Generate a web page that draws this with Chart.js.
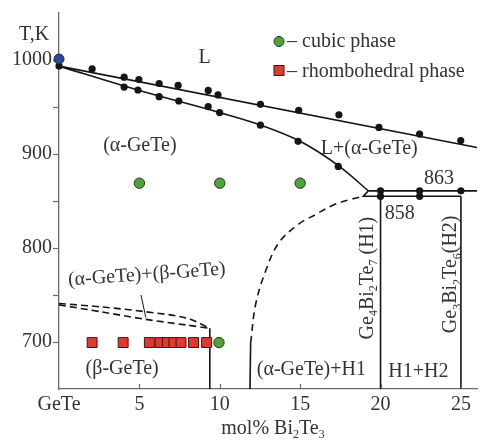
<!DOCTYPE html>
<html><head><meta charset="utf-8">
<script src="https://cdn.jsdelivr.net/npm/chart.js@4/dist/chart.umd.min.js"></script>
<style>html,body{margin:0;padding:0;background:#fff;}#wrap{width:485px;height:441px;}</style>
</head><body><div id="wrap"><canvas id="c" width="485" height="441"></canvas></div>
<script>
// ---- axis ticks ----
const xTicks = [0, 5, 10, 15, 20, 25];
const xTickLabels = ['GeTe', '5', '10', '15', '20', '25'];
const yTicks = [700, 750, 800, 850, 900, 950, 1000];
const yLabelled = [700, 800, 900, 1000];

// ---- liquidus (upper line) ----
const liquidusLineX = [0, 26];
const liquidusLineT = [993.5, 907];
const liquidusPtsX = [2.06, 4.05, 4.97, 6.23, 7.41, 9.28, 9.89, 12.53, 14.91, 17.41, 19.9, 22.43, 24.99];
const liquidusPtsT = [990.5, 981.7, 979.2, 975.0, 972.9, 967.6, 962.8, 952.8, 946.5, 941.7, 928.3, 921.2, 914.3];

// ---- solidus (lower curve) ----
const solidusCurveX = [0, 5, 10, 12.5, 15, 17.5, 19.24];
const solidusCurveT = [993.5, 967.5, 944, 931, 913.5, 886, 860.8];
const solidusPtsX = [4.05, 4.91, 6.23, 7.45, 9.28, 9.99, 12.53, 14.87, 17.37];
const solidusPtsT = [971.2, 968.1, 961, 956.4, 950.4, 944.1, 930.7, 913.5, 886.8];
const startPtX = [0];
const startPtT = [993.5];
const gePtX = [0];
const gePtT = [1001];

// ---- peritectic / eutectic horizontals (863 and 858) ----
const upperHorizX = [19.24, 26];
const upperHorizT = [860.8, 860.8];
const lowerHorizX = [19.24, 18.93, 25];
const lowerHorizT = [860.8, 855, 855];
const horizPtsX = [20, 22.43, 25, 20, 22.43];
const horizPtsT = [860.8, 860.8, 860.8, 855, 855];

// ---- vertical phase lines ----
const h1LineX = [20, 20];
const h1LineT = [855, 650];
const h2LineX = [25, 25];
const h2LineT = [855, 650];
const betaLimitX = [9.38, 9.38];
const betaLimitT = [714.5, 650];

// ---- solvus of (alpha-GeTe) ----
const solvusSolidX = [11.88, 11.92];
const solvusSolidT = [650, 699];
const solvusDashX = [11.92, 12.23, 12.84, 13.65, 14.87, 16.0, 17.1, 18.2, 18.93];
const solvusDashT = [699, 740, 775, 805, 825, 836, 846, 852, 855];

// ---- alpha/beta transition (dashed) ----
const abUpperX = [0, 2.66, 5.3, 7.96, 9.38];
const abUpperT = [741, 737.3, 732.4, 725.4, 714.5];
const abLowerX = [0, 2.66, 5.3, 7.96, 9.38];
const abLowerT = [739.5, 732, 724.3, 718, 714.5];
const leaderX = [5.1, 5.4];
const leaderT = [750, 726];

// ---- XRD samples ----
const cubicX = [5, 10, 15, 9.95];
const cubicT = [869, 869, 869, 699.4];
const rhombX = [2.06, 3.99, 5.62, 6.29, 6.74, 7.15, 7.59, 8.37, 9.18];
const rhombT = [699.4, 699.4, 699.4, 699.4, 699.4, 699.4, 699.4, 699.4, 699.4];

// ---- region labels ----
const labelTexts = ['L', '(α-GeTe)', 'L+(α-GeTe)', '863', '858', '(β-GeTe)', '(α-GeTe)+H1', 'H1+H2'];
const labelX = [9.05, 5.03, 19.3, 23.63, 21.19, 3.93, 15.7, 22.35];
const labelT = [1004.2, 910.3, 907, 875, 837.6, 673, 672, 670];
const tiltLabel = '(α-GeTe)+(β-GeTe)';
const tiltLabelX = 5.46, tiltLabelT = 773;
const vertLabels = ['Ge_4Bi_2Te_7 (H1)', 'Ge_3Bi_2Te_6(H2)'];
const vertLabelX = [19.12, 24.3];
const vertLabelT = [768, 772];
const legendTexts = ['– cubic phase', '– rhombohedral phase'];
const xTitle = 'mol% Bi_2Te_3';
const yTitle = 'T,K';

const FONT = '"Liberation Serif", "Times New Roman", serif';
const TXT = '#333';
const LINE = '#151515';
const GREEN = '#52a03c', GREEN_B = '#1f3d14';
const RED = '#e0392e', RED_B = '#4a1010';

const pts = (xs, ts) => xs.map((x, i) => ({ x: x, y: ts[i] }));
const lineDS = (xs, ts, extra) => Object.assign({
  type: 'line', data: pts(xs, ts), borderColor: LINE, borderWidth: 1.6,
  pointRadius: 0, fill: false, tension: 0, clip: false
}, extra || {});
const dotDS = (xs, ts, extra) => Object.assign({
  type: 'scatter', data: pts(xs, ts), pointRadius: 3.6, pointBackgroundColor: LINE,
  pointBorderColor: LINE, pointBorderWidth: 0, showLine: false, clip: false
}, extra || {});

function drawRich(ctx, str, x, y, size, rot) {
  // '_d' marks a subscript digit
  const segs = [];
  for (let i = 0; i < str.length; i++) {
    if (str[i] === '_' && i + 1 < str.length) { segs.push({ t: str[i + 1], sub: true }); i++; }
    else {
      if (segs.length && !segs[segs.length - 1].sub) segs[segs.length - 1].t += str[i];
      else segs.push({ t: str[i], sub: false });
    }
  }
  const subSize = Math.round(size * 0.62);
  let w = 0;
  segs.forEach(s => { ctx.font = (s.sub ? subSize : size) + 'px ' + FONT; s.w = ctx.measureText(s.t).width; w += s.w; });
  ctx.save();
  ctx.translate(x, y);
  if (rot) ctx.rotate(rot);
  ctx.textBaseline = 'alphabetic';
  ctx.textAlign = 'left';
  ctx.fillStyle = TXT;
  let cx = -w / 2;
  const base = size * 0.33;
  segs.forEach(s => {
    ctx.font = (s.sub ? subSize : size) + 'px ' + FONT;
    ctx.fillText(s.t, cx, base + (s.sub ? size * 0.22 : 0));
    cx += s.w;
  });
  ctx.restore();
}

const decor = {
  id: 'decor',
  afterDatasetsDraw(chart) {
    const ctx = chart.ctx, xs = chart.scales.x, ys = chart.scales.y, ca = chart.chartArea;
    // inward x ticks
    ctx.save();
    ctx.strokeStyle = '#666'; ctx.lineWidth = 1.2;
    xTicks.forEach(v => {
      if (v === 0) return;
      const px = Math.round(xs.getPixelForValue(v)) + 0.5;
      ctx.beginPath(); ctx.moveTo(px, ca.bottom); ctx.lineTo(px, ca.bottom - 5); ctx.stroke();
    });
    ctx.restore();
    // region labels
    labelTexts.forEach((t, i) => drawRich(ctx, t, xs.getPixelForValue(labelX[i]), ys.getPixelForValue(labelT[i]), 20, 0));
    drawRich(ctx, tiltLabel, xs.getPixelForValue(tiltLabelX), ys.getPixelForValue(tiltLabelT), 20, -4 * Math.PI / 180);
    vertLabels.forEach((t, i) => drawRich(ctx, t, xs.getPixelForValue(vertLabelX[i]), ys.getPixelForValue(vertLabelT[i]), 20, -Math.PI / 2));
    // axis titles
    drawRich(ctx, xTitle, (ca.left + ca.right) / 2 + 5, 427, 20, 0);
    drawRich(ctx, yTitle, ca.left - 25, 33, 20, 0);
    // legend
    const lx = ca.left + 220, ly1 = 41.5, ly2 = 70.5;
    ctx.save();
    ctx.fillStyle = GREEN; ctx.strokeStyle = GREEN_B; ctx.lineWidth = 1;
    ctx.beginPath(); ctx.arc(lx, ly1, 5, 0, Math.PI * 2); ctx.fill(); ctx.stroke();
    ctx.fillStyle = RED; ctx.strokeStyle = RED_B;
    ctx.fillRect(lx - 5, ly2 - 5, 10, 10); ctx.strokeRect(lx - 5, ly2 - 5, 10, 10);
    ctx.font = '20px ' + FONT; ctx.fillStyle = TXT; ctx.textBaseline = 'alphabetic'; ctx.textAlign = 'left';
    ctx.fillText(legendTexts[0], lx + 8, ly1 + 5);
    ctx.fillText(legendTexts[1], lx + 8, ly2 + 6);
    ctx.restore();
  }
};

new Chart(document.getElementById('c'), {
  type: 'scatter',
  data: {
    datasets: [
      dotDS(rhombX, rhombT, { pointStyle: 'rect', pointRadius: 7, pointBackgroundColor: RED, pointBorderColor: RED_B, pointBorderWidth: 1 }),
      dotDS(cubicX, cubicT, { pointRadius: 5.2, pointBackgroundColor: GREEN, pointBorderColor: GREEN_B, pointBorderWidth: 1 }),
      dotDS(gePtX, gePtT, { pointRadius: 5, pointBackgroundColor: '#2b4a94', pointBorderColor: '#17285a', pointBorderWidth: 1 }),
      dotDS(startPtX, startPtT),
      dotDS(liquidusPtsX, liquidusPtsT),
      dotDS(solidusPtsX, solidusPtsT),
      dotDS(horizPtsX, horizPtsT),
      lineDS(liquidusLineX, liquidusLineT),
      lineDS(solidusCurveX, solidusCurveT, { cubicInterpolationMode: 'monotone' }),
      lineDS(upperHorizX, upperHorizT),
      lineDS(lowerHorizX, lowerHorizT),
      lineDS(h1LineX, h1LineT),
      lineDS(h2LineX, h2LineT),
      lineDS(betaLimitX, betaLimitT),
      lineDS(solvusSolidX, solvusSolidT),
      lineDS(solvusDashX, solvusDashT, { borderDash: [7, 5], tension: 0.35 }),
      lineDS(abUpperX, abUpperT, { borderDash: [7, 4], tension: 0.3 }),
      lineDS(abLowerX, abLowerT, { borderDash: [7, 4], tension: 0.3 }),
      lineDS(leaderX, leaderT, { borderWidth: 1 })
    ]
  },
  options: {
    responsive: false, animation: false, devicePixelRatio: 1,
    layout: { padding: { top: 9, right: 0, left: 0, bottom: 0 } },
    plugins: { legend: { display: false }, tooltip: { enabled: false } },
    scales: {
      x: {
        type: 'linear', min: 0, max: 26,
        afterBuildTicks: s => { s.ticks = xTicks.map(v => ({ value: v })); },
        afterFit: s => { s.height = 52; },
        ticks: { font: { family: FONT, size: 20 }, color: TXT, padding: 4, maxRotation: 0,
          callback: v => xTickLabels[xTicks.indexOf(v)] },
        grid: { display: true, drawOnChartArea: false, drawTicks: false, tickLength: 0, color: 'rgba(0,0,0,0)' },
        border: { display: true, color: '#6a6a6a', width: 1.3 }
      },
      y: {
        type: 'linear', min: 650, max: 1050,
        afterBuildTicks: s => { s.ticks = yTicks.map(v => ({ value: v })); },
        afterFit: s => { s.width = 59; },
        ticks: { font: { family: FONT, size: 20 }, color: TXT, padding: 1,
          callback: v => yLabelled.includes(v) ? String(v) : '' },
        grid: { display: true, drawOnChartArea: false, drawTicks: true, tickLength: 6, tickColor: '#6a6a6a', tickWidth: 1.2 },
        border: { display: true, color: '#6a6a6a', width: 1.3 }
      }
    }
  },
  plugins: [decor]
});
</script></body></html>
